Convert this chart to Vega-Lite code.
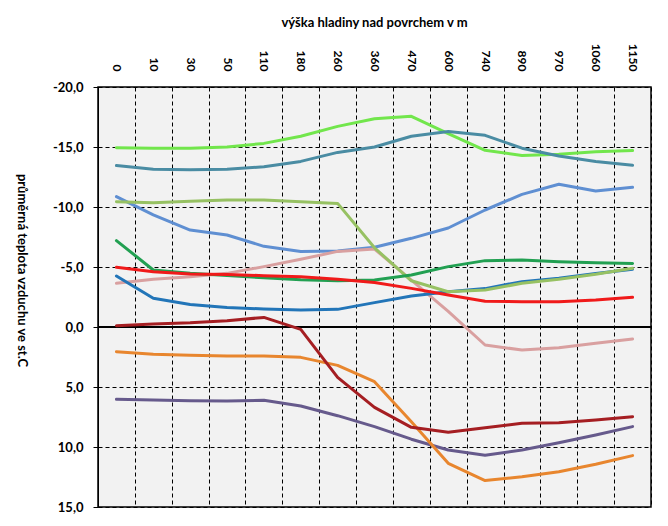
{
  "$schema": "https://vega.github.io/schema/vega-lite/v6.json",
  "width": 553,
  "height": 420,
  "autosize": "none",
  "padding": {"left": 98, "top": 87, "right": 17, "bottom": 19},
  "background": "white",
  "config": {
    "view": {"fill": "#f2f2f2", "stroke": "black", "strokeWidth": 1.5},
    "font": "Lato"
  },
  "data": {"values": [
    {"h":"0","s":"s01","t":6.03},{"h":"10","s":"s01","t":6.08},{"h":"30","s":"s01","t":6.14},{"h":"50","s":"s01","t":6.17},{"h":"110","s":"s01","t":6.1},{"h":"180","s":"s01","t":6.58},{"h":"260","s":"s01","t":7.39},{"h":"360","s":"s01","t":8.3},{"h":"470","s":"s01","t":9.35},{"h":"600","s":"s01","t":10.25},{"h":"740","s":"s01","t":10.69},{"h":"890","s":"s01","t":10.25},{"h":"970","s":"s01","t":9.64},{"h":"1060","s":"s01","t":9.0},{"h":"1150","s":"s01","t":8.3},
    {"h":"0","s":"s02","t":2.06},{"h":"10","s":"s02","t":2.28},{"h":"30","s":"s02","t":2.36},{"h":"50","s":"s02","t":2.42},{"h":"110","s":"s02","t":2.42},{"h":"180","s":"s02","t":2.53},{"h":"260","s":"s02","t":3.2},{"h":"360","s":"s02","t":4.56},{"h":"470","s":"s02","t":7.9},{"h":"600","s":"s02","t":11.36},{"h":"740","s":"s02","t":12.8},{"h":"890","s":"s02","t":12.47},{"h":"970","s":"s02","t":12.06},{"h":"1060","s":"s02","t":11.44},{"h":"1150","s":"s02","t":10.72},
    {"h":"0","s":"s03","t":-0.1},{"h":"10","s":"s03","t":-0.25},{"h":"30","s":"s03","t":-0.35},{"h":"50","s":"s03","t":-0.52},{"h":"110","s":"s03","t":-0.8},{"h":"180","s":"s03","t":0.2},{"h":"260","s":"s03","t":4.2},{"h":"360","s":"s03","t":6.7},{"h":"470","s":"s03","t":8.36},{"h":"600","s":"s03","t":8.78},{"h":"740","s":"s03","t":8.39},{"h":"890","s":"s03","t":8.03},{"h":"970","s":"s03","t":7.97},{"h":"1060","s":"s03","t":7.75},{"h":"1150","s":"s03","t":7.47},
    {"h":"0","s":"s04","t":-14.94},{"h":"10","s":"s04","t":-14.9},{"h":"30","s":"s04","t":-14.9},{"h":"50","s":"s04","t":-15.0},{"h":"110","s":"s04","t":-15.3},{"h":"180","s":"s04","t":-15.9},{"h":"260","s":"s04","t":-16.72},{"h":"360","s":"s04","t":-17.36},{"h":"470","s":"s04","t":-17.56},{"h":"600","s":"s04","t":-16.11},{"h":"740","s":"s04","t":-14.72},{"h":"890","s":"s04","t":-14.3},{"h":"970","s":"s04","t":-14.4},{"h":"1060","s":"s04","t":-14.6},{"h":"1150","s":"s04","t":-14.7},
    {"h":"0","s":"s05","t":-13.45},{"h":"10","s":"s05","t":-13.15},{"h":"30","s":"s05","t":-13.1},{"h":"50","s":"s05","t":-13.15},{"h":"110","s":"s05","t":-13.35},{"h":"180","s":"s05","t":-13.8},{"h":"260","s":"s05","t":-14.55},{"h":"360","s":"s05","t":-15.0},{"h":"470","s":"s05","t":-15.9},{"h":"600","s":"s05","t":-16.3},{"h":"740","s":"s05","t":-15.97},{"h":"890","s":"s05","t":-14.9},{"h":"970","s":"s05","t":-14.25},{"h":"1060","s":"s05","t":-13.8},{"h":"1150","s":"s05","t":-13.47},
    {"h":"0","s":"s06","t":-10.86},{"h":"10","s":"s06","t":-9.35},{"h":"30","s":"s06","t":-8.08},{"h":"50","s":"s06","t":-7.67},{"h":"110","s":"s06","t":-6.72},{"h":"180","s":"s06","t":-6.3},{"h":"260","s":"s06","t":-6.33},{"h":"360","s":"s06","t":-6.64},{"h":"470","s":"s06","t":-7.39},{"h":"600","s":"s06","t":-8.25},{"h":"740","s":"s06","t":-9.75},{"h":"890","s":"s06","t":-11.05},{"h":"970","s":"s06","t":-11.9},{"h":"1060","s":"s06","t":-11.33},{"h":"1150","s":"s06","t":-11.64},
    {"h":"0","s":"s07","t":-3.64},{"h":"10","s":"s07","t":-3.97},{"h":"30","s":"s07","t":-4.19},{"h":"50","s":"s07","t":-4.47},{"h":"110","s":"s07","t":-5.03},{"h":"180","s":"s07","t":-5.64},{"h":"260","s":"s07","t":-6.3},{"h":"360","s":"s07","t":-6.5},{"h":"470","s":"s07","t":-3.9},{"h":"600","s":"s07","t":-1.3},{"h":"740","s":"s07","t":1.5},{"h":"890","s":"s07","t":1.92},{"h":"970","s":"s07","t":1.72},{"h":"1060","s":"s07","t":1.36},{"h":"1150","s":"s07","t":1.0},
    {"h":"0","s":"s08","t":-4.25},{"h":"10","s":"s08","t":-2.39},{"h":"30","s":"s08","t":-1.88},{"h":"50","s":"s08","t":-1.62},{"h":"110","s":"s08","t":-1.5},{"h":"180","s":"s08","t":-1.42},{"h":"260","s":"s08","t":-1.47},{"h":"360","s":"s08","t":-2.03},{"h":"470","s":"s08","t":-2.58},{"h":"600","s":"s08","t":-2.94},{"h":"740","s":"s08","t":-3.2},{"h":"890","s":"s08","t":-3.78},{"h":"970","s":"s08","t":-4.06},{"h":"1060","s":"s08","t":-4.45},{"h":"1150","s":"s08","t":-4.82},
    {"h":"0","s":"s09","t":-10.44},{"h":"10","s":"s09","t":-10.36},{"h":"30","s":"s09","t":-10.47},{"h":"50","s":"s09","t":-10.58},{"h":"110","s":"s09","t":-10.58},{"h":"180","s":"s09","t":-10.44},{"h":"260","s":"s09","t":-10.3},{"h":"360","s":"s09","t":-6.6},{"h":"470","s":"s09","t":-3.85},{"h":"600","s":"s09","t":-2.94},{"h":"740","s":"s09","t":-3.08},{"h":"890","s":"s09","t":-3.64},{"h":"970","s":"s09","t":-3.97},{"h":"1060","s":"s09","t":-4.39},{"h":"1150","s":"s09","t":-4.89},
    {"h":"0","s":"s10","t":-7.2},{"h":"10","s":"s10","t":-4.75},{"h":"30","s":"s10","t":-4.47},{"h":"50","s":"s10","t":-4.3},{"h":"110","s":"s10","t":-4.1},{"h":"180","s":"s10","t":-3.94},{"h":"260","s":"s10","t":-3.85},{"h":"360","s":"s10","t":-3.92},{"h":"470","s":"s10","t":-4.33},{"h":"600","s":"s10","t":-5.03},{"h":"740","s":"s10","t":-5.53},{"h":"890","s":"s10","t":-5.58},{"h":"970","s":"s10","t":-5.44},{"h":"1060","s":"s10","t":-5.36},{"h":"1150","s":"s10","t":-5.3},
    {"h":"0","s":"s11","t":-4.97},{"h":"10","s":"s11","t":-4.6},{"h":"30","s":"s11","t":-4.42},{"h":"50","s":"s11","t":-4.38},{"h":"110","s":"s11","t":-4.28},{"h":"180","s":"s11","t":-4.18},{"h":"260","s":"s11","t":-3.97},{"h":"360","s":"s11","t":-3.7},{"h":"470","s":"s11","t":-3.22},{"h":"600","s":"s11","t":-2.67},{"h":"740","s":"s11","t":-2.15},{"h":"890","s":"s11","t":-2.1},{"h":"970","s":"s11","t":-2.1},{"h":"1060","s":"s11","t":-2.25},{"h":"1150","s":"s11","t":-2.47}
  ]},
  "layer": [
    {
      "mark": {"type": "rule", "color": "black", "strokeWidth": 2},
      "encoding": {"y": {"datum": 0, "type": "quantitative"}}
    },
    {
      "mark": {"type": "line", "strokeCap": "round", "strokeJoin": "round"},
      "encoding": {
        "x": {
          "field": "h", "type": "ordinal",
          "sort": ["0","10","30","50","110","180","260","360","470","600","740","890","970","1060","1150"],
          "scale": {"type": "band", "paddingInner": 0, "paddingOuter": 0},
          "axis": {
            "orient": "top",
            "title": "výška hladiny nad povrchem v m",
            "titleFont": "Lato", "titleFontSize": 13, "titleFontWeight": "bold", "titleColor": "black",
            "titleX": 276, "titleY": -65, "titleAlign": "center", "titleBaseline": "middle",
            "labelAngle": 90, "labelAlign": "right", "labelBaseline": "middle", "labelPadding": 16,
            "labelFont": "Lato", "labelFontSize": 12, "labelFontWeight": "bold", "labelColor": "black",
            "ticks": false, "domain": false, "tickBand": "extent",
            "grid": true, "gridDash": [4, 3], "gridColor": "black", "gridOpacity": 1, "gridWidth": 1
          }
        },
        "y": {
          "field": "t", "type": "quantitative",
          "scale": {"domain": [-20, 15], "reverse": true, "nice": false, "zero": false},
          "axis": {
            "title": "průměrná teplota vzduchu ve st.C",
            "titleFont": "Lato", "titleFontSize": 13, "titleFontWeight": "bold", "titleColor": "black",
            "titleAngle": 90, "titleX": -77, "titleY": 183, "titleAlign": "center", "titleBaseline": "middle",
            "values": [-20, -15, -10, -5, 0, 5, 10, 15],
            "labelExpr": "replace(replace(format(datum.value, '.1f'), '.', ','), '\u2212', '-')",
            "labelFont": "Lato", "labelFontSize": 13, "labelFontWeight": "bold", "labelColor": "black",
            "labelPadding": 10,
            "tickSize": 5, "tickColor": "black", "domainColor": "black", "domainWidth": 1,
            "grid": true, "gridDash": [4, 3], "gridColor": "black", "gridOpacity": 1, "gridWidth": 1
          }
        },
        "color": {
          "field": "s", "type": "nominal", "legend": null,
          "scale": {
            "domain": ["s01","s02","s03","s04","s05","s06","s07","s08","s09","s10","s11"],
            "range": ["#665A8C","#E8862E","#A51E22","#72E64C","#4A8CA3","#5F8FD2","#D9A0A0","#2275B8","#97C163","#22A052","#F01A1A"]
          }
        },
        "strokeWidth": {
          "field": "s", "type": "nominal", "legend": null,
          "scale": {
            "domain": ["s01","s02","s03","s04","s05","s06","s07","s08","s09","s10","s11"],
            "range": [3, 3, 2.5, 3, 3, 3, 3, 3, 3, 3, 6]
          }
        }
      }
    }
  ]
}
